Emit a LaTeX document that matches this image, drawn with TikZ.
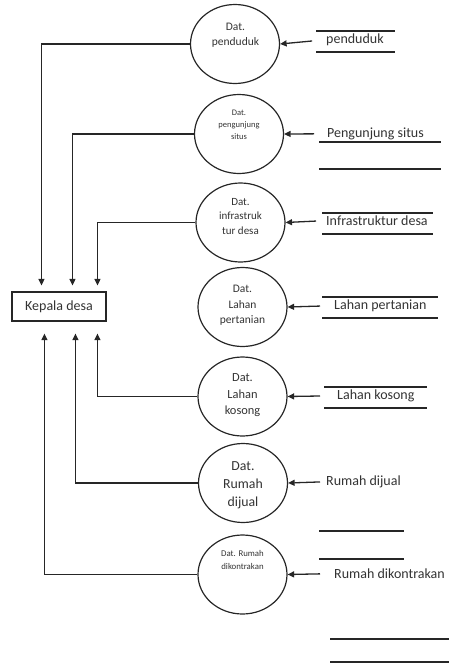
\documentclass[tikz,border=0pt]{standalone}
\usepackage{fontspec}
\setmainfont{Carlito}
\usetikzlibrary{shapes.geometric,arrows.meta}
\begin{document}
\begin{tikzpicture}[x=1pt,y=-1pt,
  proc/.style={ellipse, draw=black!85, line width=1.2pt, minimum width=89pt, minimum height=79pt, inner sep=0pt},
  ptext/.style={align=center, inner sep=0pt, text=black!80},
  lab/.style={anchor=mid west, inner sep=0pt, font=\fontsize{14}{16}\selectfont, text=black!80},
  ent/.style={draw=black!85, line width=1.1pt, minimum width=94pt, minimum height=29pt, inner sep=0pt, font=\fontsize{14}{16}\selectfont, text=black!80},
  flow/.style={draw=black!85, line width=1.3pt, -{Triangle[length=6.5pt,width=6pt]}},
  store/.style={draw=black!85, line width=1.3pt}]
\useasboundingbox (0,0) rectangle (449,664);

% process circles
\node[proc] (c1) at (235,44) {};
\node[proc] (c2) at (239,134) {};
\node[proc] (c3) at (240.5,222.5) {};
\node[proc] (c4) at (242.5,307) {};
\node[proc] (c5) at (242.5,396.5) {};
\node[proc] (c6) at (243,483) {};
\node[proc] (c7) at (242.5,574.5) {};

% circle texts
\node[ptext, font=\fontsize{11.5}{15}\selectfont] (t1) at (235.5,35.5) {Dat.\\penduduk};
\node[ptext, font=\fontsize{8.5}{12}\selectfont] (t2) at (239,125) {Dat.\\pengunjung\\situs};
\node[ptext, font=\fontsize{11}{14.5}\selectfont] (t3) at (240.5,216.5) {Dat.\\infrastruk\\tur desa};
\node[ptext, font=\fontsize{11.5}{15.5}\selectfont] (t4) at (242.5,305.5) {Dat.\\Lahan\\pertanian};
\node[ptext, font=\fontsize{12.4}{16.5}\selectfont] (t5) at (242.5,395.5) {Dat.\\Lahan\\kosong};
\node[ptext, font=\fontsize{13.8}{18}\selectfont] (t6) at (243,485) {Dat.\\Rumah\\dijual};
\node[ptext, font=\fontsize{8.8}{13}\selectfont] (t7) at (242.5,559.5) {Dat. Rumah\\dikontrakan};

% external entity
\node[ent] (kd) at (59,306.5) {Kepala desa};

% source labels
\node[lab] (l1) at (326,41) {penduduk};
\node[lab] (l2) at (327,135) {Pengunjung situs};
\node[lab] (l3) at (326,223) {Infrastruktur desa};
\node[lab] (l4) at (334,307) {Lahan pertanian};
\node[lab] (l5) at (337,397) {Lahan kosong};
\node[lab] (l6) at (326,483) {Rumah dijual};
\node[lab] (l7) at (334,576) {Rumah dikontrakan};

% store lines
\draw[store] (316,31) -- (395,31);
\draw[store] (316,52) -- (395,52);
\draw[store] (319,142) -- (441,142);
\draw[store] (319,169) -- (441,169);
\draw[store] (322,213) -- (433,213);
\draw[store] (322,234) -- (433,234);
\draw[store] (322,297) -- (438,297);
\draw[store] (322,318) -- (438,318);
\draw[store] (324,387) -- (427,387);
\draw[store] (324,408) -- (427,408);
\draw[store] (319,531) -- (404,531);
\draw[store] (319,559) -- (404,559);
\draw[store] (330,639) -- (449,639);
\draw[store] (330,662) -- (449,662);

% flows from labels into circles
\draw[flow, shorten <=14pt] (l1.west) -- (c1.east);
\draw[flow, shorten <=13pt] (l2.west) -- (c2.east);
\draw[flow, shorten <=10pt] (l3.west) -- (c3.east);
\draw[flow, shorten <=14pt] (l4.west) -- (c4.east);
\draw[flow, shorten <=17pt] (l5.west) -- (c5.east);
\draw[flow, shorten <=6pt] (l6.west) -- (c6.east);
\draw[flow, shorten <=14pt] (l7.west) -- (c7.east);

% flows from circles to Kepala desa
\draw[flow] (c1.west) -| ([xshift=30pt,yshift=6pt]kd.north west);
\draw[flow] (c2.west) -| ([xshift=61pt,yshift=6pt]kd.north west);
\draw[flow] (c3.west) -| ([xshift=86pt,yshift=6pt]kd.north west);
\draw[flow] (c5.west) -| ([xshift=86pt,yshift=-12pt]kd.south west);
\draw[flow] (c6.west) -| ([xshift=64pt,yshift=-12pt]kd.south west);
\draw[flow] (c7.west) -| ([xshift=33pt,yshift=-12pt]kd.south west);
\end{tikzpicture}
\end{document}
